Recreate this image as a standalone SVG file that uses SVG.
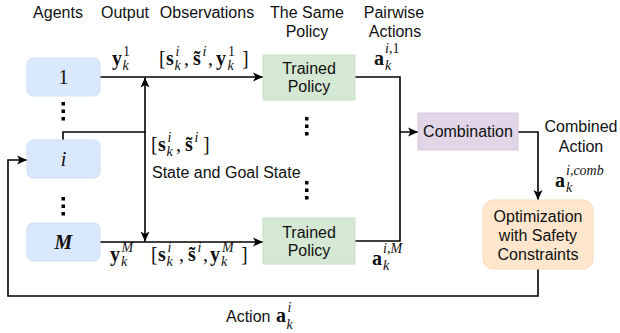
<svg xmlns="http://www.w3.org/2000/svg" width="620" height="333" viewBox="0 0 620 333">
<style>
.lbl{font-family:"Liberation Sans",Arial,sans-serif;font-size:16px;fill:#111}
.c{text-anchor:middle}
.m{font-family:"Liberation Serif","Times New Roman",serif;font-size:20px;fill:#111}
.b{font-weight:bold}
.s{font-family:"Liberation Serif","Times New Roman",serif;font-size:14px;fill:#111}
.it{font-style:italic}
.ln{fill:none;stroke:#000;stroke-width:1.6}
.agent{fill:#dae8fc;stroke:#cfdff5;stroke-width:1}
.pol{fill:#d5e8d4;stroke:#c8dfc6;stroke-width:1}
.comb{fill:#e1d5e7;stroke:#d6c8de;stroke-width:1}
.opt{fill:#ffe6cc;stroke:#f3dac0;stroke-width:1}
.dot{fill:#000}
</style>
<defs>
<marker id="arr" markerUnits="userSpaceOnUse" markerWidth="10" markerHeight="10" viewBox="0 0 10 10" refX="10" refY="5" orient="auto">
<path d="M0,0.5 L10,5 L0,9.5 L2.5,5 z" fill="#000"/>
</marker>
</defs>

<!-- headers -->
<g id="headers">
<text class="lbl c" x="58" y="17.5">Agents</text>
<text class="lbl c" x="125" y="17.5">Output</text>
<text class="lbl c" x="207" y="17.5">Observations</text>
<text class="lbl c" x="307" y="17.5">The Same</text>
<text class="lbl c" x="307" y="36.5">Policy</text>
<text class="lbl c" x="394" y="17.5">Pairwise</text>
<text class="lbl c" x="395" y="36.5">Actions</text>
<text class="lbl c" x="581" y="132">Combined</text>
<text class="lbl c" x="581" y="152">Action</text>
<text class="lbl" x="226" y="322">Action</text>
<text class="lbl" x="152" y="178">State and Goal State</text>
</g>

<!-- connectors -->
<g id="connectors">
<path class="ln" d="M100,77 H263" marker-end="url(#arr)"/>
<path class="ln" d="M63,140 V132 H145 V77.5" marker-end="url(#arr)"/>
<path class="ln" d="M145,132 V241.5" marker-end="url(#arr)"/>
<path class="ln" d="M100,242 H263" marker-end="url(#arr)"/>
<path class="ln" d="M355,77 H400 V132 H418" marker-end="url(#arr)"/>
<path class="ln" d="M355,241 H400 V132"/>
<path class="ln" d="M518,132 H538 V200" marker-end="url(#arr)"/>
<path class="ln" d="M538,269 V296 H8 V160 H27" marker-end="url(#arr)"/>
</g>

<!-- nodes -->
<g id="agent-1">
<rect class="agent" x="27" y="58" width="73" height="38" rx="6"/>
<text class="m c" x="63.5" y="84">1</text>
</g>
<g id="agent-i">
<rect class="agent" x="27" y="140" width="73" height="38" rx="6"/>
<text class="m c it" x="63.5" y="166">i</text>
</g>
<g id="agent-M">
<rect class="agent" x="27" y="223" width="73" height="38" rx="6"/>
<text class="m c it b" x="63.5" y="249">M</text>
</g>
<g id="policy-1">
<rect class="pol" x="263" y="55" width="92" height="45"/>
<text class="lbl c" x="309" y="74">Trained</text>
<text class="lbl c" x="309" y="92">Policy</text>
</g>
<g id="policy-M">
<rect class="pol" x="263" y="218" width="92" height="46"/>
<text class="lbl c" x="309" y="237.5">Trained</text>
<text class="lbl c" x="309" y="255.5">Policy</text>
</g>
<g id="combination">
<rect class="comb" x="418" y="113" width="100" height="37"/>
<text class="lbl c" x="468" y="137">Combination</text>
</g>
<g id="optimization">
<rect class="opt" x="483" y="200" width="110" height="69" rx="10"/>
<text class="lbl c" x="538" y="221.5">Optimization</text>
<text class="lbl c" x="538" y="240.5">with Safety</text>
<text class="lbl c" x="538" y="259.5">Constraints</text>
</g>

<!-- ellipses -->
<g id="dots">
<rect class="dot" x="61.5" y="102" width="3.5" height="3.5"/>
<rect class="dot" x="61.5" y="109.5" width="3.5" height="3.5"/>
<rect class="dot" x="61.5" y="117" width="3.5" height="3.5"/>
<rect class="dot" x="61.5" y="197" width="3.5" height="3.5"/>
<rect class="dot" x="61.5" y="204.5" width="3.5" height="3.5"/>
<rect class="dot" x="61.5" y="212" width="3.5" height="3.5"/>
<rect class="dot" x="305" y="117" width="3.5" height="3.5"/>
<rect class="dot" x="305" y="124.5" width="3.5" height="3.5"/>
<rect class="dot" x="305" y="132" width="3.5" height="3.5"/>
<rect class="dot" x="305" y="181" width="3.5" height="3.5"/>
<rect class="dot" x="305" y="188.5" width="3.5" height="3.5"/>
<rect class="dot" x="305" y="196" width="3.5" height="3.5"/>
</g>

<!-- math labels -->
<g id="math">
<!-- y_k^1 top -->
<text class="m b" x="112" y="65">y</text>
<text class="s" x="123" y="56">1</text>
<text class="s it" x="122.5" y="70">k</text>
<!-- [s_k^i, s~^i, y_k^1] -->
<text class="m" x="159" y="65">[</text>
<text class="m b" x="166" y="65">s</text>
<text class="s it" x="175.5" y="56">i</text>
<text class="s it" x="174.5" y="70">k</text>
<text class="m" x="184" y="65">,</text>
<text class="m b" x="193" y="65">s&#x303;</text>
<text class="s it" x="202.5" y="56">i</text>
<text class="m" x="208" y="65">,</text>
<text class="m b" x="216" y="65">y</text>
<text class="s" x="228" y="56">1</text>
<text class="s it" x="227.5" y="70">k</text>
<text class="m" x="242" y="65">]</text>

<!-- [s_k^i, s~^i] middle -->
<text class="m" x="151" y="151">[</text>
<text class="m b" x="158" y="151">s</text>
<text class="s it" x="167.5" y="142">i</text>
<text class="s it" x="166.5" y="156">k</text>
<text class="m" x="176" y="151">,</text>
<text class="m b" x="185" y="151">s&#x303;</text>
<text class="s it" x="194.5" y="142">i</text>
<text class="m" x="203" y="151">]</text>

<!-- y_k^M bottom -->
<text class="m b" x="110" y="261">y</text>
<text class="s it" x="121.5" y="252">M</text>
<text class="s it" x="121" y="266">k</text>
<!-- [s_k^i, s~^i, y_k^M] -->
<text class="m" x="151" y="261">[</text>
<text class="m b" x="158" y="261">s</text>
<text class="s it" x="167.5" y="252">i</text>
<text class="s it" x="166.5" y="266">k</text>
<text class="m" x="179" y="261">,</text>
<text class="m b" x="188" y="261">s&#x303;</text>
<text class="s it" x="197.5" y="252">i</text>
<text class="m" x="203" y="261">,</text>
<text class="m b" x="210" y="261">y</text>
<text class="s it" x="222" y="252">M</text>
<text class="s it" x="221" y="266">k</text>
<text class="m" x="241" y="261">]</text>

<!-- a_k^{i,1} -->
<text class="m b" x="374" y="65">a</text>
<text class="s" x="385" y="53"><tspan class="it">i</tspan>,1</text>
<text class="s it" x="385" y="70">k</text>
<!-- a_k^{i,M} -->
<text class="m b" x="372" y="265">a</text>
<text class="s" x="383" y="253"><tspan class="it">i</tspan>,<tspan class="it">M</tspan></text>
<text class="s it" x="383" y="270">k</text>
<!-- a_k^{i,comb} -->
<text class="m b" x="555" y="187">a</text>
<text class="s it" x="566" y="175">i,comb</text>
<text class="s it" x="566" y="192">k</text>
<!-- a_k^i bottom -->
<text class="m b" x="276" y="322">a</text>
<text class="s it" x="287.5" y="312">i</text>
<text class="s it" x="286.5" y="329">k</text>
</g>
</svg>
